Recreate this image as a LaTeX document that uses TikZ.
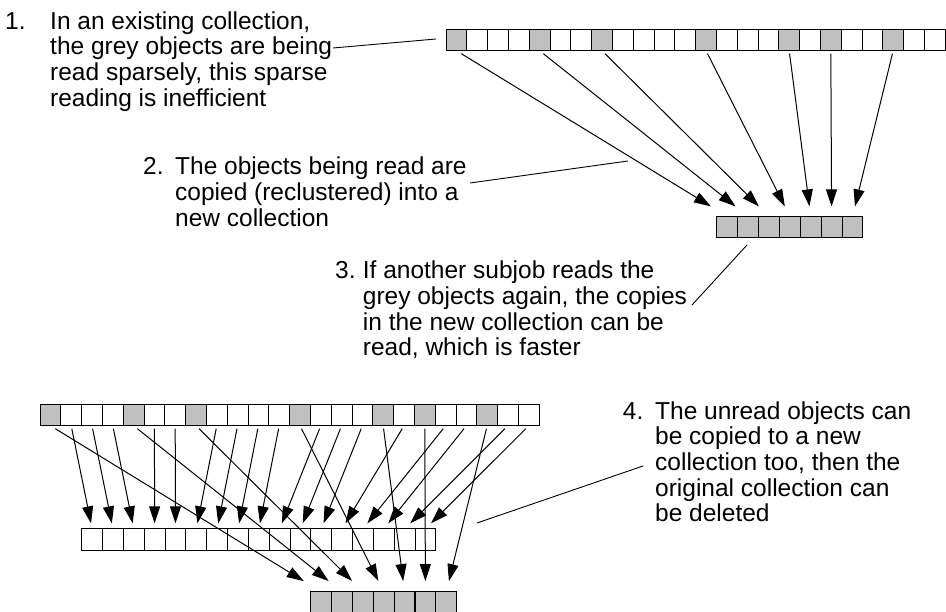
\documentclass[tikz,border=0pt]{standalone}
\usepackage{fontspec}
\setmainfont{Liberation Sans}
\usetikzlibrary{arrows.meta,calc}
\definecolor{objgrey}{HTML}{C0C0C0}
\newcommand{\caplines}[1]{\begin{tabular}[t]{@{}l@{}}#1\end{tabular}}
\begin{document}
\begin{tikzpicture}[x=1pt,y=-1pt,
  cell/.style={draw, line width=1pt, minimum width=20.8pt, minimum height=21.4pt,
               inner sep=0pt, outer sep=0pt, fill=white},
  greycell/.style={cell, fill=objgrey},
  arr/.style={line width=1pt, -{Triangle[length=17pt,width=11pt]}},
  leader/.style={line width=0.9pt},
  label/.style={inner sep=0pt, anchor=base west,
                font=\fontsize{24.5}{25.6}\selectfont},
]
\fill[white] (0,0) rectangle (946,612);
\useasboundingbox (0,0) rectangle (946,612);

\def\greylist{0,4,7,12,16,18,21}
\def\whitelist{1,2,3,5,6,8,9,10,11,13,14,15,17,19,20,22,23}

% existing collection (top) and its reclustered copy
\foreach \i in \whitelist \node[cell] (t\i) at ({446+20.8*(\i+0.5)},40) {};
\foreach \i in \greylist \node[greycell] (t\i) at ({446+20.8*(\i+0.5)},40) {};
\foreach \k in {0,...,6} \node[greycell] (s\k) at ({716.7+20.9*(\k+0.5)},227) {};

% rows share one height, so each arrow is trimmed by a fixed fraction
\foreach \i [count=\k from 0] in \greylist
  \draw[arr] ($(t\i.south)!0.018!(s\k.north)$) -- ($(t\i.south)!0.940!(s\k.north)$);

% existing collection (bottom), copies of unread and read objects
\foreach \i in \whitelist \node[cell] (b\i) at ({40+20.8*(\i+0.5)},415) {};
\foreach \i in \greylist \node[greycell] (b\i) at ({40+20.8*(\i+0.5)},415) {};
\foreach \k in {0,...,16} \node[cell] (m\k) at ({81.7+20.84*(\k+0.5)},539.5) {};
\foreach \k in {0,...,6} \node[greycell] (g\k) at ({310.7+20.86*(\k+0.5)},602.4) {};

\foreach \i [count=\k from 0] in \whitelist
  \draw[arr] ($(b\i.south)!0.029!(m\k.north)$) -- ($(b\i.south)!0.947!(m\k.north)$);
\foreach \i [count=\k from 0] in \greylist
  \draw[arr] ($(b\i.south)!0.018!(g\k.north)$) -- ($(b\i.south)!0.936!(g\k.north)$);

% captions
\node[label] (n1) at (5,29.3) {1.};
\node[label] (c1) at (50,29.3) {\caplines{In an existing collection,\\the grey objects are being\\read sparsely, this sparse\\reading is inefficient}};
\node[label] (n2) at (143,175) {2.};
\node[label] (c2) at (175,175) {\caplines{The objects being read are\\copied (reclustered) into a\\new collection}};
\node[label] (n3) at (335,279) {3.};
\node[label] (c3) at (362.7,279) {\caplines{If another subjob reads the\\grey objects again, the copies\\in the new collection can be\\read, which is faster}};
\node[label] (n4) at (622.7,419.3) {4.};
\node[label] (c4) at (655,419.3) {\caplines{The unread objects can\\be copied to a new\\collection too, then the\\original collection can\\be deleted}};

% leader lines from captions
\coordinate (l1a) at (333,48);   \coordinate (l1b) at (436,39);
\coordinate (l2a) at (470,183); \coordinate (l2b) at (628,161);
\coordinate (l3a) at (692,305);  \coordinate (l3b) at (747,245);
\coordinate (l4a) at (477,523);  \coordinate (l4b) at (643,466);
\draw[leader] (l1a) -- (l1b);
\draw[leader] (l2a) -- (l2b);
\draw[leader] (l3a) -- (l3b);
\draw[leader] (l4a) -- (l4b);
\end{tikzpicture}
\end{document}
